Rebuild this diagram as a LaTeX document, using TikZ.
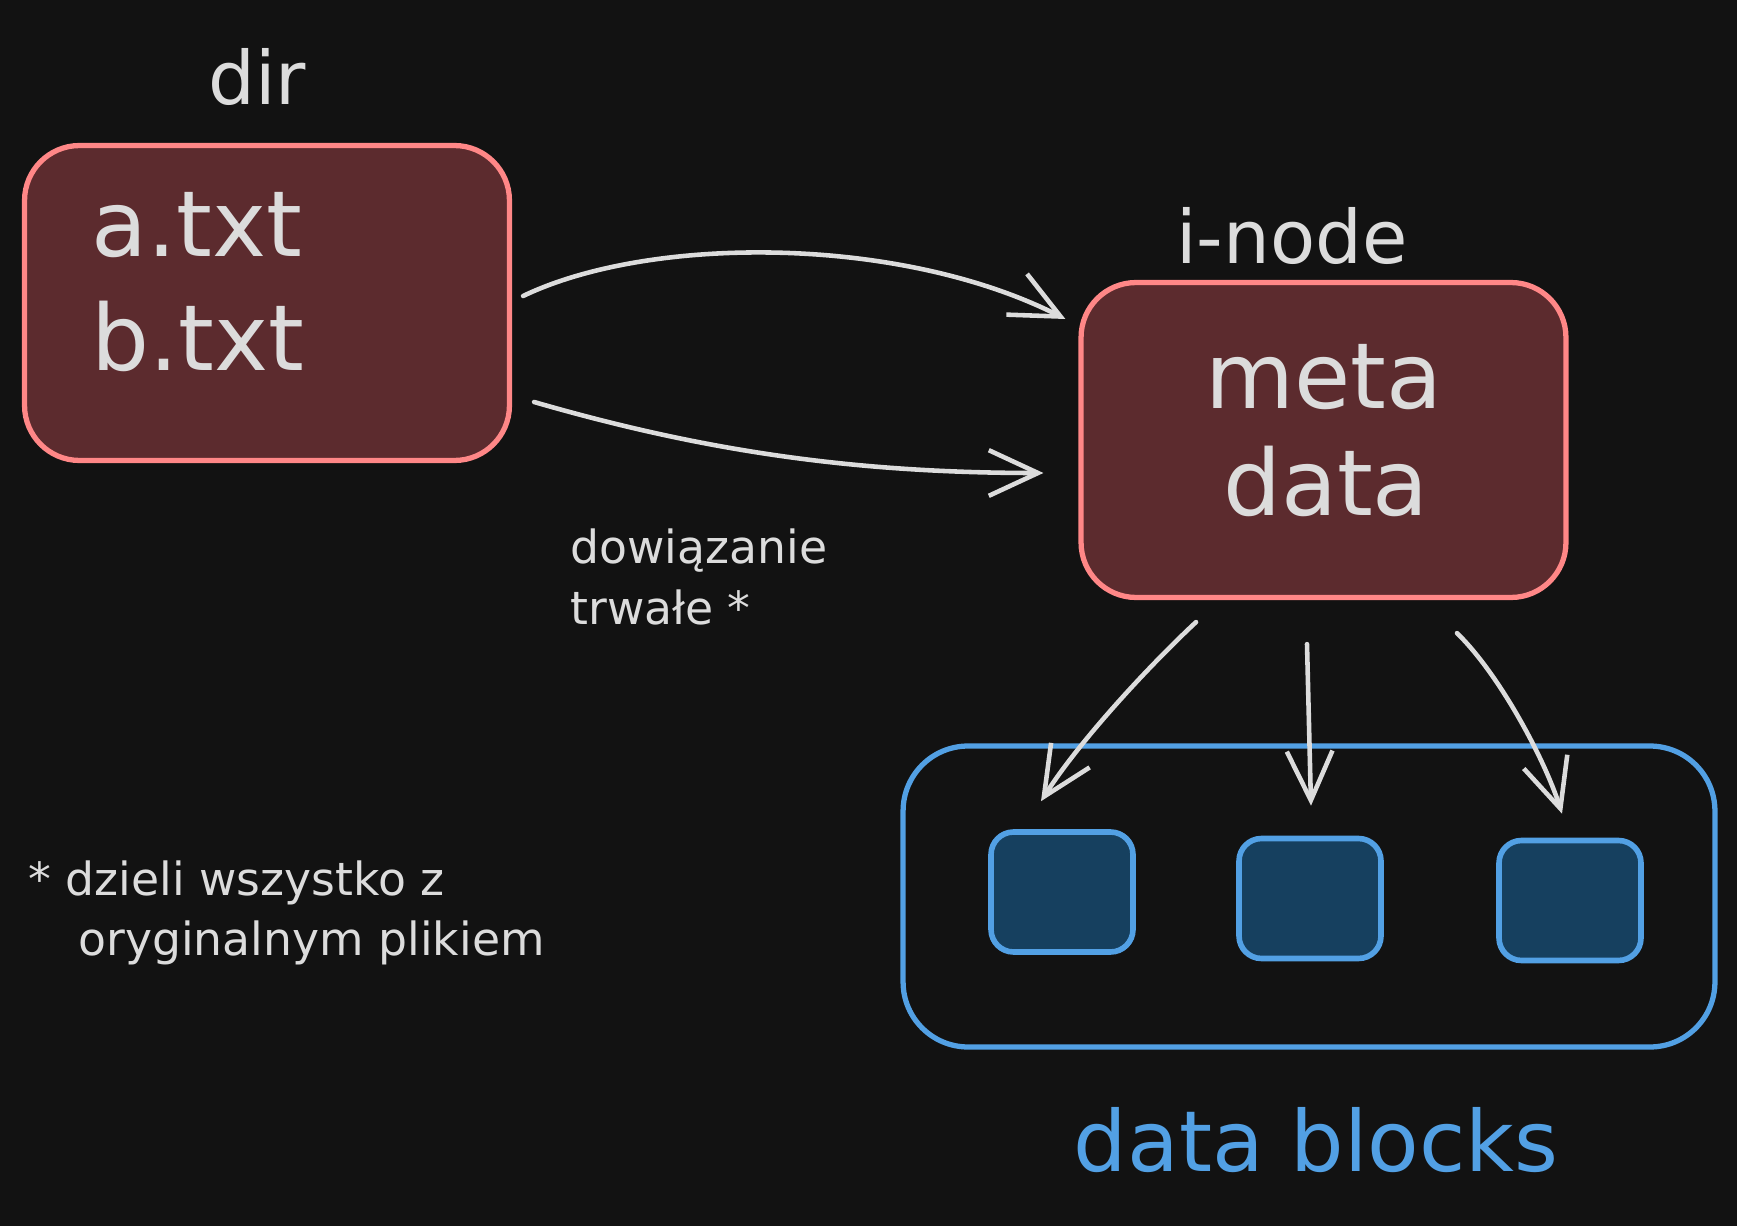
\documentclass[tikz,border=0pt]{standalone}
\usepackage{fontspec}
\setmainfont{DejaVu Sans}
\usepackage{xcolor}
\usepackage{tikz}
\usetikzlibrary{arrows.meta}

\definecolor{bgdark}{HTML}{121212}
\definecolor{redline}{HTML}{FF8787}
\definecolor{redfill}{HTML}{5C2B2E}
\definecolor{blueline}{HTML}{52A0E4}
\definecolor{bluefill}{HTML}{16405F}
\definecolor{inkgray}{HTML}{DCDCDC}

\begin{document}
\begin{tikzpicture}[
    x=0.02cm, y=-0.02cm,
    redbox/.style={
        draw=redline, fill=redfill, line width=3pt, rounded corners=1.1cm,
        minimum width=9.7cm, minimum height=6.3cm
    },
    groupbox/.style={
        draw=blueline, line width=3pt, rounded corners=1.3cm,
        minimum width=16.24cm, minimum height=6.02cm
    },
    block/.style={
        draw=blueline, fill=bluefill, line width=3.2pt, rounded corners=0.45cm,
        minimum width=2.84cm, minimum height=2.4cm
    },
    txt/.style={inner sep=0pt, text=inkgray},
    big/.style={txt, font=\fontsize{52}{60}\selectfont},
    label/.style={txt, font=\fontsize{42}{50}\selectfont},
    note/.style={txt, font=\fontsize{26}{32}\selectfont},
    blocklabel/.style={txt, text=blueline, font=\fontsize{48}{56}\selectfont},
    arr/.style={-{Straight Barb[length=28pt, width=26pt]}, draw=inkgray,
        line width=2.6pt, line cap=round}
]

% --- Background ---
\fill[bgdark] (0,0) rectangle (1737,1226);
\useasboundingbox (0,0) rectangle (1737,1226);

% --- Directory ---
\node[redbox] (dir) at (267,303) {};
\node[label, anchor=base] (dirlabel) at (257,105) {dir};
\node[big, anchor=base west] (atxt) at (91,257) {a.txt};
\node[big, anchor=base west] (btxt) at (91,371) {b.txt};

% --- i-node ---
\node[redbox] (inode) at (1323.5,440) {};
\node[label, anchor=base] (inodelabel) at (1292,264) {i-node};
\node[big, anchor=base] (meta) at (1324,408) {meta};
\node[big, anchor=base] (data) at (1326,515) {data};

% --- Data blocks ---
\node[groupbox] (blocks) at (1309,896.5) {};
\node[block] (block1) at (1062,892) {};
\node[block] (block2) at (1310,898.5) {};
\node[block] (block3) at (1570,900.5) {};
\node[blocklabel, anchor=base] (blockslabel) at (1316,1171) {data blocks};

% --- Arrows ---
\draw[arr] ([shift={(11,-7)}]dir.east) .. controls (650,235) and (900,235)
    .. ([shift={(-13,-121)}]inode.west);
\draw[arr] ([shift={(22,99)}]dir.east) .. controls (700,450) and (850,473)
    .. ([shift={(-35,33)}]inode.west);
\draw[arr] ([shift={(-127.5,22)}]inode.south) .. controls (1150,665) and (1080,740)
    .. ([shift={(-21,-28)}]block1.north);
\draw[arr] ([shift={(-16.5,44)}]inode.south) -- ([shift={(1,-30)}]block2.north);
\draw[arr] ([shift={(133.5,33)}]inode.south) .. controls (1500,675) and (1545,760)
    .. ([shift={(-8,-24)}]block3.north);

% --- Annotations ---
\node[note, anchor=base west] (link1) at (570,563) {dowiązanie};
\node[note, anchor=base west] (link2) at (570,624) {trwałe *};
\node[note, anchor=base west] (foot1) at (28,895) {* dzieli wszystko z};
\node[note, anchor=base west] (foot2) at (78,955) {oryginalnym plikiem};

\end{tikzpicture}
\end{document}
